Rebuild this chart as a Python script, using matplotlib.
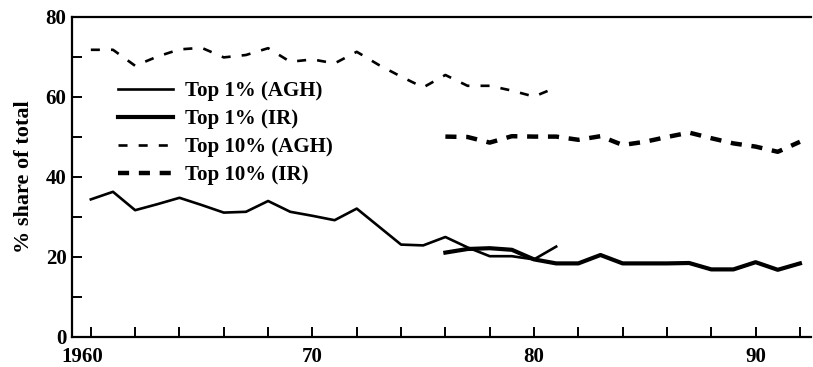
import matplotlib
matplotlib.use("Agg")
import matplotlib.pyplot as plt
import matplotlib.transforms as mtransforms
from matplotlib.ticker import FixedLocator, FuncFormatter

# Top 1% and top 10% income shares, two sources
years_agh = list(range(1960, 1982))
top1_agh = [34.4, 36.3, 31.7, 33.2, 34.8, 33.0, 31.1, 31.3, 34.0, 31.3, 30.3,
            29.2, 32.1, 27.6, 23.1, 22.9, 25.0, 22.4, 20.2, 20.2, 19.4, 22.6]
top10_agh = [71.8, 71.8, 67.8, 70.1, 71.9, 72.3, 69.9, 70.5, 72.2, 68.8, 69.4,
             68.4, 71.3, 68.0, 65.1, 62.4, 65.5, 62.8, 62.8, 61.6, 60.1, 62.4]

years_ir = list(range(1976, 1993))
top1_ir = [21.1, 22.0, 22.2, 21.8, 19.4, 18.4, 18.4, 20.5, 18.4, 18.4, 18.4,
           18.5, 16.9, 16.9, 18.7, 16.8, 18.4]
top10_ir = [50.1, 50.0, 48.6, 50.2, 50.1, 50.1, 49.3, 50.2, 48.0, 48.8, 50.0,
            51.1, 49.7, 48.4, 47.6, 46.3, 48.8]

series_labels = ["Top 1% (AGH)", "Top 1% (IR)", "Top 10% (AGH)", "Top 10% (IR)"]

plt.rcParams["font.family"] = ["Liberation Serif", "DejaVu Serif"]
plt.rcParams["font.weight"] = "bold"
plt.rcParams["font.size"] = 15
plt.rcParams["lines.scale_dashes"] = False

fig = plt.figure(figsize=(8.13, 3.67), dpi=100)
ax = fig.add_axes([72 / 813, 30 / 367, (811 - 72) / 813, (337 - 17) / 367])

ax.plot(years_agh, top1_agh, color="black", lw=1.9, label=series_labels[0])
ax.plot(years_ir, top1_ir, color="black", lw=3.0, label=series_labels[1])
ax.plot(years_agh, top10_agh, color="black", lw=1.9, dashes=(6.5, 8),
        label=series_labels[2])
ax.plot(years_ir, top10_ir, color="black", lw=3.2, dashes=(8, 7),
        label=series_labels[3])

ax.set_xlim(1959.15, 1992.5)
ax.set_ylim(0, 80)

ax.xaxis.set_major_locator(FixedLocator(range(1960, 1993, 2)))
ax.xaxis.set_major_formatter(FuncFormatter(
    lambda v, p: "1960" if int(v) == 1960 else (str(int(v) % 100) if int(v) % 10 == 0 else "")))
ax.yaxis.set_major_locator(FixedLocator([0, 20, 40, 60, 80]))
ax.yaxis.set_minor_locator(FixedLocator([10, 30, 50, 70]))

ax.tick_params(which="both", direction="in", length=7, width=1.4, pad=4,
               labelsize=15)
ax.tick_params(axis="x", pad=7)

# the "1960" label sits a little left of its tick in the original
shift = mtransforms.ScaledTranslation(-9 / 100, 0, fig.dpi_scale_trans)
first = ax.get_xticklabels()[0]
first.set_transform(first.get_transform() + shift)

for side in ["left", "bottom", "top"]:
    ax.spines[side].set_linewidth(1.6)
ax.spines["right"].set_visible(False)

ax.set_ylabel("% share of total", fontsize=16, fontweight="bold", labelpad=8)

leg = ax.legend(loc="upper left", bbox_to_anchor=(0.051, 0.825), frameon=False,
                handlelength=2.65, handletextpad=0.55, labelspacing=0.38,
                fontsize=15, borderaxespad=0)

fig.savefig("out.png", dpi=100)
